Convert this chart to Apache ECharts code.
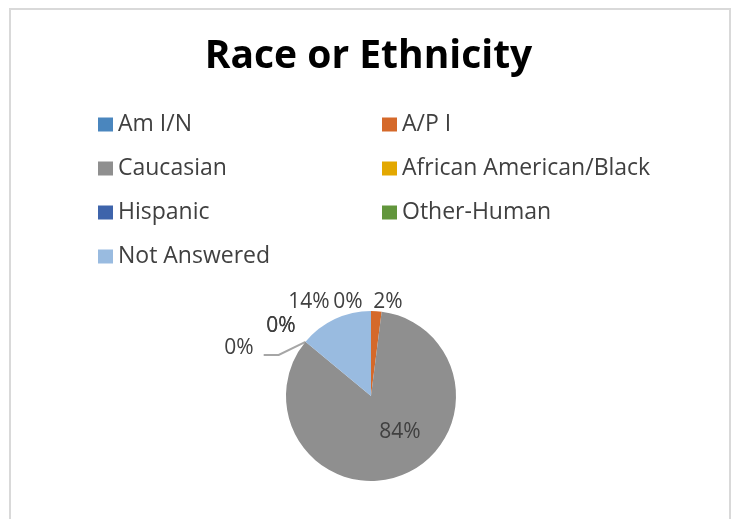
<!DOCTYPE html>
<html>
<head>
<meta charset="utf-8">
<script src="https://cdn.jsdelivr.net/npm/echarts@6/dist/echarts.min.js"></script>
<style>
  html, body { margin: 0; padding: 0; background: #ffffff; }
  #frame { position: absolute; left: 9px; top: 8px; width: 722px; height: 530px;
           border: 2px solid #d9d9d9; box-sizing: border-box; }
  #chart { position: absolute; left: 0; top: 0; width: 737px; height: 519px; }
</style>
</head>
<body>
<div id="frame"></div>
<div id="chart"></div>
<script>
// Share of respondents by race or ethnicity (percent)
const categories = ['Am I/N', 'A/P I', 'Caucasian', 'African American/Black', 'Hispanic', 'Other-Human', 'Not Answered'];
const values = [0, 2, 84, 0, 0, 0, 14];
const colors = ['#4a86be', '#d5692a', '#8f8f8f', '#e3a800', '#3e64ab', '#62963c', '#99bbe0'];

const leftNames = [categories[0], categories[2], categories[4], categories[6]];
const rightNames = [categories[1], categories[3], categories[5]];

const font = '"Open Sans", "Noto Sans", sans-serif';

// Placement of the data labels around the pie (label centre, px)
const labelSpots = {
  0: [348, 302],
  1: [388, 302],
  2: [400, 432],
  3: [239, 348],
  4: [281, 326],
  5: [281, 326],
  6: [309, 302]
};
const leaderIndex = 3;

const chart = echarts.init(document.getElementById('chart'), null, { renderer: 'canvas' });

const legendBase = {
  orient: 'vertical',
  icon: 'rect',
  itemWidth: 15,
  itemHeight: 14,
  itemGap: 21,
  padding: 0,
  top: 113,
  textStyle: { fontFamily: font, fontSize: 23, lineHeight: 23, color: '#404040' },
  selectedMode: false
};

chart.setOption({
  animation: false,
  color: colors,
  title: {
    text: 'Race or Ethnicity',
    left: 'center',
    top: 37,
    padding: 0,
    textStyle: { fontFamily: font, fontSize: 39, fontWeight: 'bold', color: '#000000' }
  },
  legend: [
    Object.assign({}, legendBase, { left: 98, data: leftNames }),
    Object.assign({}, legendBase, { left: 382, data: rightNames })
  ],
  series: [{
    type: 'pie',
    center: [371, 396],
    radius: 85,
    startAngle: 90,
    clockwise: true,
    avoidLabelOverlap: false,
    stillShowZeroSum: true,
    data: categories.map((name, i) => ({
      name: name,
      value: values[i],
      labelLine: { show: i === leaderIndex }
    })),
    itemStyle: { borderWidth: 0 },
    label: {
      show: true,
      formatter: p => Math.round(p.percent) + '%',
      fontFamily: font,
      fontSize: 21,
      color: '#404040',
      position: 'outside'
    },
    labelLine: { show: true, length: 6, length2: 12, lineStyle: { color: '#a6a6a6', width: 2 } },
    labelLayout: function (params) {
      const spot = labelSpots[params.dataIndex];
      const out = { x: spot[0], y: spot[1], align: 'center', verticalAlign: 'middle' };
      if (params.dataIndex === leaderIndex && params.labelLinePoints) {
        const edge = params.labelLinePoints[0];
        const w = params.labelRect.width;
        const endX = spot[0] + w / 2 + 10;
        const baseY = spot[1] + 7;
        out.labelLinePoints = [edge, [endX + 15, baseY], [endX, baseY]];
      }
      return out;
    }
  }]
});
</script>
</body>
</html>
